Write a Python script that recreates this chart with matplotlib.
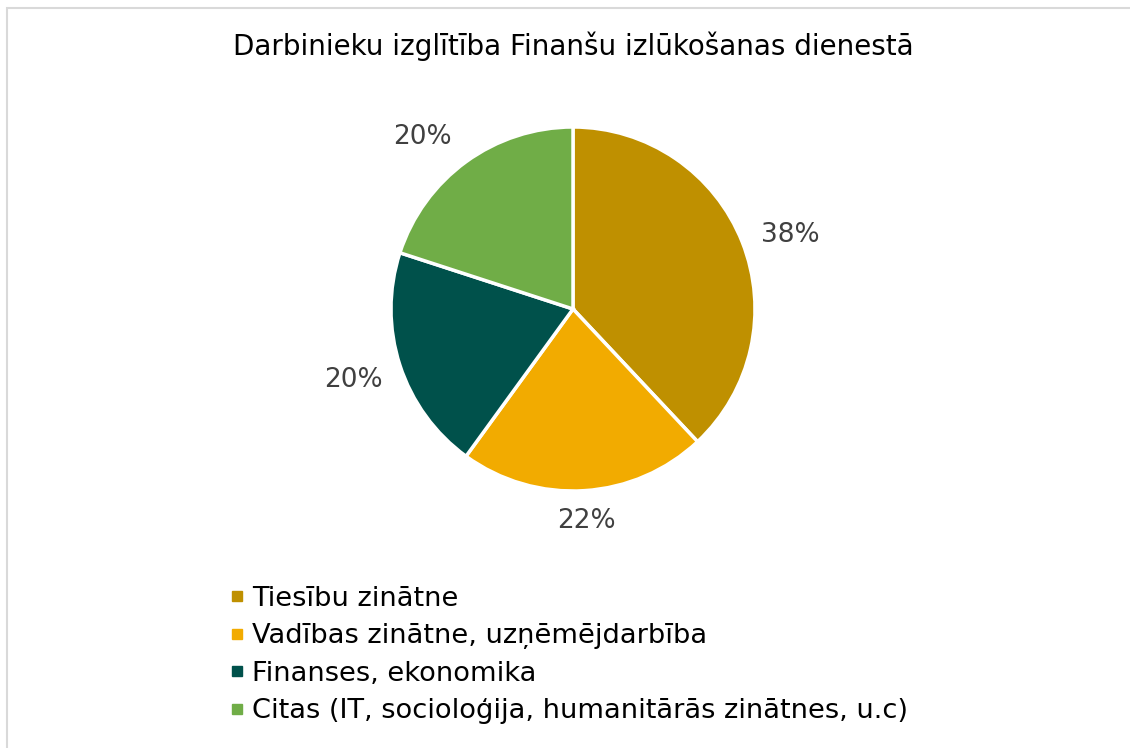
import numpy as np
import matplotlib.pyplot as plt
from matplotlib.lines import Line2D
from matplotlib.patches import Rectangle

categories = ['Tiesību zinātne',
              'Vadības zinātne, uzņēmējdarbība',
              'Finanses, ekonomika',
              'Citas (IT, socioloģija, humanitārās zinātnes, u.c)']
shares = [38, 22, 20, 20]
colors = ['#BF9000', '#F2AB00', '#00514B', '#70AD47']

W, H = 1130, 748
fig = plt.figure(figsize=(W / 100, H / 100), dpi=100)

# light frame like the original chart area
fig.patches.append(Rectangle((7 / W, -0.1), 1.2, (H - 8) / H + 0.1,
                             transform=fig.transFigure, fill=False,
                             edgecolor='#D9D9D9', linewidth=1.5))

cx, cy, r = 573, 309, 182
side = 2.5 * r
ax = fig.add_axes([(cx - side / 2) / W, (H - cy - side / 2) / H, side / W, side / H])
wedges, texts, autotexts = ax.pie(
    shares, colors=colors, startangle=90, counterclock=False,
    autopct='%d%%', pctdistance=1.22,
    wedgeprops=dict(edgecolor='white', linewidth=2.5),
    textprops=dict(fontsize=19, color='#404040'))
ax.set_xlim(-1.25, 1.25)
ax.set_ylim(-1.25, 1.25)
ax.set_aspect('equal')

# "outside end" labels: keep a constant gap between the pie edge and the label box
half_w, half_h, gap = 0.165, 0.066, 0.09
for w, t in zip(wedges, autotexts):
    ang = np.deg2rad((w.theta1 + w.theta2) / 2)
    d = 1.0 + gap + half_w * abs(np.cos(ang)) + half_h * abs(np.sin(ang))
    x, y = d * np.cos(ang), d * np.sin(ang)
    if y > 0:
        y -= 0.06
        x -= 0.1 if x < 0 else -0.015
    t.set_position((x, y))

fig.text(573 / W, 1 - 46 / H, 'Darbinieku izglītība Finanšu izlūkošanas dienestā',
         ha='center', va='center', fontsize=20, color='#000000')

handles = [Line2D([], [], marker='s', linestyle='none', markersize=7.5,
                  markerfacecolor=c, markeredgecolor=c) for c in colors]
fig.legend(handles, categories, loc='upper left',
           bbox_to_anchor=(219 / W, 1 - 575 / H), frameon=False,
           fontsize=19.6, handlelength=0.5, handletextpad=0.33,
           labelspacing=0.42, borderaxespad=0)

fig.savefig('out.png', dpi=100)
